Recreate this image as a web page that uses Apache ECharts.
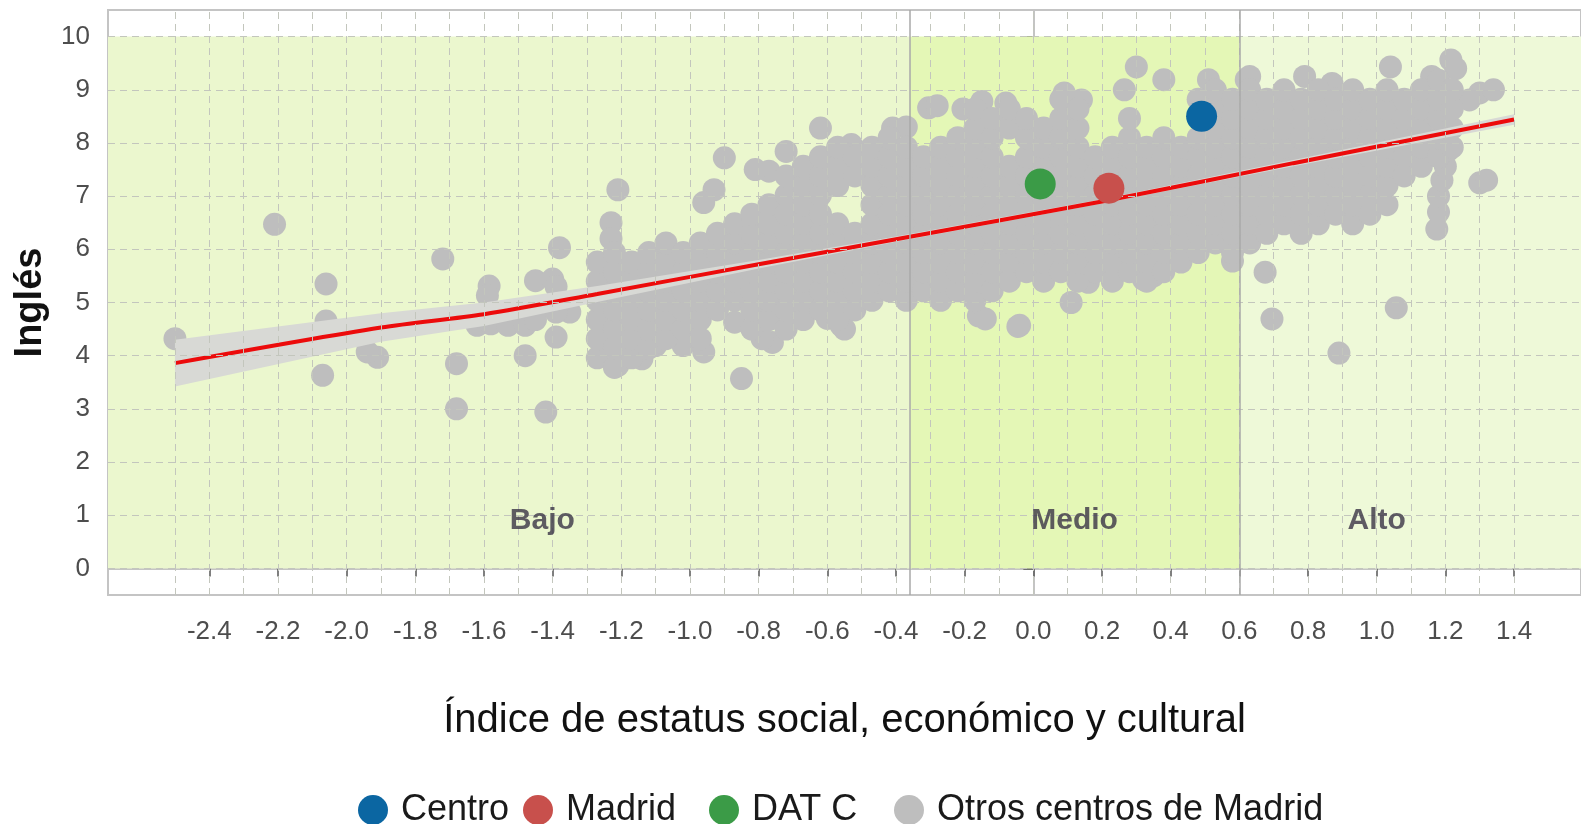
<!DOCTYPE html>
<html>
<head>
<meta charset="utf-8">
<script src="https://cdn.jsdelivr.net/npm/echarts@6/dist/echarts.min.js"></script>
<style>
  html, body { margin: 0; padding: 0; background: #ffffff; }
  #chart { width: 1581px; height: 824px; }
</style>
</head>
<body>
<div id="chart"></div>
<script>
// Eje X: índice ESCS; eje Y: nota de Inglés
const xTicks = [-2.4, -2.2, -2.0, -1.8, -1.6, -1.4, -1.2, -1.0, -0.8, -0.6, -0.4, -0.2, 0.0, 0.2, 0.4, 0.6, 0.8, 1.0, 1.2, 1.4];
const yTicks = [0, 1, 2, 3, 4, 5, 6, 7, 8, 9, 10];

// Tramos del índice (bajo / medio / alto)
const tramos = ['Bajo', 'Medio', 'Alto'];
const tramoLimites = [-0.36, 0.6];
const tramoEtiquetaX = [-1.43, 0.12, 1.0];

// Recta de ajuste e intervalo de confianza
const ajusteX = [-2.5, -1.9, -1.6, -1.27, -0.8, -0.4, 0.2, 0.757, 1.4];
const ajusteY = [3.86, 4.53, 4.78, 5.16, 5.72, 6.19, 6.9, 7.62, 8.44];
const icInf = [3.42, 4.26, 4.56, 5.01, 5.64, 6.14, 6.86, 7.56, 8.34];
const icSup = [4.30, 4.80, 5.00, 5.31, 5.80, 6.24, 6.94, 7.68, 8.54];

// Centros destacados
const centro = [[0.49, 8.50]];
const madrid = [[0.22, 7.15]];
const datC = [[0.02, 7.23]];

// Otros centros de Madrid: puntos aislados
const otrosAislados = [
  [-2.50, 4.32], [-2.21, 6.47], [-2.06, 5.35], [-2.06, 4.65], [-2.07, 3.63],
  [-1.91, 3.97], [-1.94, 4.07], [-1.72, 5.82], [-1.68, 3.85], [-1.68, 3.00],
  [-1.585, 5.31], [-1.59, 5.13], [-1.62, 4.57], [-1.58, 4.60], [-1.53, 4.57],
  [-1.48, 4.57], [-1.45, 4.68], [-1.45, 5.41], [-1.40, 5.44], [-1.39, 5.30],
  [-1.38, 6.03], [-1.39, 4.35], [-1.48, 4.00], [-1.42, 2.94], [-1.35, 4.82],
  [-1.39, 4.82], [-1.21, 7.12], [-1.23, 6.50], [-1.23, 6.20], [-1.14, 3.94],
  [-1.10, 4.19], [-1.21, 3.82], [-1.23, 4.45],
  [-0.90, 7.72], [-0.93, 7.12], [-0.96, 6.88], [-0.72, 7.84], [-0.62, 8.28],
  [-0.77, 7.47], [-0.81, 7.50], [-0.58, 7.78], [-0.53, 7.97], [-0.305, 8.66],
  [-0.28, 8.70], [-0.41, 8.28], [-0.37, 8.30], [-0.15, 8.78], [-0.08, 8.75],
  [-0.205, 8.64], [0.09, 8.94], [0.14, 8.81], [0.265, 9.00], [0.30, 9.43],
  [0.38, 9.19], [0.51, 9.19], [0.62, 9.19], [0.63, 9.25], [0.79, 9.25],
  [0.87, 9.12], [1.04, 9.43], [1.16, 9.25], [1.216, 9.56], [1.23, 9.40],
  [1.30, 8.94], [1.34, 9.00], [1.27, 8.81], [1.30, 7.25], [1.32, 7.30],
  [1.21, 7.87],
  [-0.87, 4.63], [-0.85, 3.57], [-0.76, 4.25], [-0.79, 4.32], [-0.56, 4.57],
  [-0.55, 4.50], [-0.60, 4.70], [-0.16, 4.75], [-0.14, 4.69], [-0.04, 4.57],
  [-0.045, 4.55], [0.11, 5.00], [0.16, 5.38], [0.32, 5.44], [0.35, 5.50],
  [0.58, 5.78], [0.675, 5.57], [0.695, 4.69], [1.057, 4.90], [0.89, 4.05],
  [1.175, 6.38], [1.18, 6.70], [1.18, 7.00], [1.19, 7.30], [1.20, 7.56],
  [-0.96, 4.07], [-1.02, 4.19]
];

// Otros centros de Madrid: nube principal, agrupada por valor del índice
const otrosNube = [
  [-1.27, [3.96, 4.32, 4.68, 5.04, 5.40, 5.76]],
  [-1.22, [3.78, 4.14, 4.50, 4.86, 5.22, 5.58, 5.94]],
  [-1.17, [3.96, 4.32, 4.68, 5.04, 5.40, 5.76]],
  [-1.12, [4.14, 4.50, 4.86, 5.22, 5.58, 5.94]],
  [-1.07, [4.32, 4.68, 5.04, 5.40, 5.76, 6.12]],
  [-1.02, [4.50, 4.86, 5.22, 5.58, 5.94]],
  [-0.97, [4.32, 4.68, 5.04, 5.40, 5.76, 6.12]],
  [-0.92, [4.86, 5.22, 5.58, 5.94, 6.30]],
  [-0.87, [5.04, 5.40, 5.76, 6.12, 6.48]],
  [-0.82, [4.50, 4.86, 5.22, 5.58, 5.94, 6.30, 6.66]],
  [-0.77, [4.68, 5.04, 5.40, 5.76, 6.12, 6.48, 6.84]],
  [-0.72, [4.50, 4.86, 5.22, 5.58, 5.94, 6.30, 6.66, 7.02, 7.38]],
  [-0.67, [4.68, 5.04, 5.40, 5.76, 6.12, 6.48, 6.84, 7.20, 7.56]],
  [-0.62, [4.86, 5.22, 5.58, 5.94, 6.30, 6.66, 7.02, 7.38, 7.74]],
  [-0.57, [4.68, 5.04, 5.40, 5.76, 6.12, 6.48, 7.20, 7.56, 7.92]],
  [-0.52, [4.86, 5.22, 5.58, 5.94, 6.30, 7.38, 7.74]],
  [-0.47, [5.04, 5.40, 5.76, 6.12, 6.48, 6.84, 7.20, 7.56, 7.92]],
  [-0.42, [5.22, 5.58, 5.94, 6.30, 6.66, 7.02, 7.38, 7.74, 8.10]],
  [-0.37, [5.04, 5.40, 5.76, 6.12, 6.48, 6.84, 7.20, 7.56, 7.92]],
  [-0.32, [5.22, 5.58, 5.94, 6.30, 6.66, 7.02, 7.38, 7.74]],
  [-0.27, [5.04, 5.40, 5.76, 6.12, 6.48, 6.84, 7.20, 7.56, 7.92]],
  [-0.22, [5.22, 5.58, 5.94, 6.30, 6.66, 7.02, 7.38, 7.74, 8.10]],
  [-0.17, [5.04, 5.40, 5.76, 6.12, 6.48, 6.84, 7.20, 7.56, 7.92, 8.28, 8.64]],
  [-0.12, [5.22, 5.58, 5.94, 6.30, 6.66, 7.02, 7.38, 7.74, 8.10, 8.46]],
  [-0.07, [5.40, 5.76, 6.12, 6.48, 6.84, 7.20, 7.56, 8.28, 8.64]],
  [-0.02, [5.58, 5.94, 6.30, 6.66, 7.02, 7.38, 7.74, 8.10, 8.46]],
  [0.03, [5.40, 5.76, 6.12, 6.48, 6.84, 7.20, 7.56, 7.92, 8.28]],
  [0.08, [5.58, 5.94, 6.30, 6.66, 7.02, 7.38, 7.74, 8.10, 8.46, 8.82]],
  [0.13, [5.40, 5.76, 6.12, 6.48, 6.84, 7.20, 7.56, 7.92, 8.28, 8.64]],
  [0.18, [5.58, 5.94, 6.30, 6.66, 7.02, 7.38, 7.74]],
  [0.23, [5.40, 5.76, 6.12, 6.48, 6.84, 7.20, 7.56, 7.92]],
  [0.28, [5.58, 5.94, 6.30, 6.66, 7.02, 7.38, 7.74, 8.10, 8.46]],
  [0.33, [5.40, 5.76, 6.12, 6.48, 6.84, 7.20, 7.56, 7.92]],
  [0.38, [5.58, 5.94, 6.30, 6.66, 7.02, 7.38, 7.74, 8.10]],
  [0.43, [5.76, 6.12, 6.48, 6.84, 7.20, 7.56, 7.92]],
  [0.48, [5.94, 6.30, 6.66, 7.02, 7.38, 7.74, 8.10, 8.82]],
  [0.53, [6.12, 6.48, 6.84, 7.20, 7.56, 7.92, 8.28, 8.64, 9.00]],
  [0.58, [5.94, 6.30, 6.66, 7.02, 7.38, 7.74, 8.10, 8.46, 8.82]],
  [0.63, [6.12, 6.48, 6.84, 7.20, 7.56, 7.92, 8.28, 8.64, 9.00]],
  [0.68, [6.30, 6.66, 7.02, 7.38, 7.74, 8.10, 8.46, 8.82]],
  [0.73, [6.48, 6.84, 7.20, 7.56, 7.92, 8.28, 8.64, 9.00]],
  [0.78, [6.30, 6.66, 7.02, 7.38, 7.74, 8.10, 8.46, 8.82]],
  [0.83, [6.48, 6.84, 7.20, 7.56, 7.92, 8.28, 8.64, 9.00]],
  [0.88, [6.66, 7.02, 7.38, 7.74, 8.10, 8.46, 8.82]],
  [0.93, [6.48, 6.84, 7.20, 7.56, 7.92, 8.28, 8.64, 9.00]],
  [0.98, [6.66, 7.02, 7.38, 7.74, 8.10, 8.46, 8.82]],
  [1.03, [6.84, 7.20, 7.56, 7.92, 8.28, 8.64, 9.00]],
  [1.08, [7.38, 7.74, 8.10, 8.46, 8.82]],
  [1.13, [7.56, 7.92, 8.28, 8.64, 9.00]],
  [1.18, [7.74, 8.10, 8.46, 8.82, 9.18]],
  [1.22, [7.92, 8.28, 8.64, 9.00]]
];

const otrosCentros = otrosAislados.concat(
  otrosNube.flatMap(([x, ys]) => ys.map(y => [x, y]))
);

// Límites del panel (rango de datos más un 5 % a cada lado)
const xMin = -2.695, xMax = 1.595;
const yMin = -0.5, yMax = 10.5;

const FONT = 'Liberation Sans, Arial, sans-serif';
const fondoTramos = ['#ebf7ce', '#e4f7b6', '#eef9d8'];

const xGrid = [];
for (let i = -25; i <= 14; i++) xGrid.push(i / 10);

const cortes = [xMin, tramoLimites[0], tramoLimites[1], xMax];
const areasTramos = tramos.map((t, i) => [
  { xAxis: cortes[i], yAxis: 0, itemStyle: { color: fondoTramos[i] } },
  { xAxis: cortes[i + 1], yAxis: 10 }
]);

// Leyenda: una entrada por componente para fijar su posición
const leyenda = [
  { nombre: 'Centro', left: 358 },
  { nombre: 'Madrid', left: 523 },
  { nombre: 'DAT C', left: 709 },
  { nombre: 'Otros centros de Madrid', left: 894 }
].map(l => ({
  data: [l.nombre], left: l.left, top: 792, padding: 0, icon: 'circle',
  itemWidth: 30, itemHeight: 30, selectedMode: false,
  textStyle: { fontSize: 36, color: '#1a1a1a', fontFamily: FONT, padding: [0, 0, 0, 8] }
}));

const chart = echarts.init(document.getElementById('chart'));
chart.setOption({
  animation: false,
  backgroundColor: '#ffffff',
  textStyle: { fontFamily: FONT },
  grid: {
    left: 108, top: 10, width: 1480, height: 585,
    show: true, borderColor: '#c4c4c4', borderWidth: 2, backgroundColor: '#ffffff'
  },
  xAxis: {
    type: 'value', min: xMin, max: xMax,
    name: 'Índice de estatus social, económico y cultural',
    nameLocation: 'middle', nameGap: 106,
    nameTextStyle: { fontSize: 40, color: '#111111', fontFamily: FONT },
    axisLine: { show: true, lineStyle: { color: '#c4c4c4', width: 2 } },
    axisTick: { show: true, length: 8, customValues: xTicks, lineStyle: { color: '#555555', width: 1.5 } },
    axisLabel: {
      customValues: xTicks, fontSize: 26, color: '#4d4d4d', margin: 24, fontFamily: FONT,
      formatter: v => Number(v).toFixed(1)
    },
    splitLine: { show: false }
  },
  yAxis: {
    type: 'value', min: yMin, max: yMax,
    name: 'Inglés', nameLocation: 'middle', nameGap: 58,
    nameTextStyle: { fontSize: 38, fontWeight: 'bold', color: '#111111', fontFamily: FONT },
    axisLine: { show: true, lineStyle: { color: '#c4c4c4', width: 2 } },
    axisTick: { show: true, length: 10, customValues: yTicks, lineStyle: { color: '#555555', width: 1.5 } },
    axisLabel: { customValues: yTicks, fontSize: 26, color: '#4d4d4d', margin: 18, fontFamily: FONT },
    splitLine: { show: false }
  },
  legend: leyenda,
  series: [
    {
      name: 'fondo', type: 'scatter', data: [], z: 0, silent: true,
      markArea: { silent: true, data: areasTramos }
    },
    {
      name: 'rejilla', type: 'scatter', data: [], z: 1, silent: true,
      markLine: {
        silent: true, symbol: 'none', label: { show: false },
        lineStyle: { color: '#c3c6bd', width: 1, type: [7, 5] },
        data: xGrid.map(v => ({ xAxis: v })).concat(yTicks.map(v => ({ yAxis: v })))
      }
    },
    {
      name: 'limites', type: 'scatter', data: [], z: 1, silent: true,
      markLine: {
        silent: true, symbol: 'none', label: { show: false },
        lineStyle: { color: '#a8a8a8', width: 1.5, type: 'solid' },
        data: tramoLimites.map(v => ({ xAxis: v }))
      }
    },
    {
      name: 'Otros centros de Madrid', type: 'scatter', z: 2,
      symbolSize: 23, itemStyle: { color: '#bebebe', opacity: 1 },
      data: otrosCentros
    },
    {
      // banda del intervalo de confianza: borde superior y vuelta por el inferior
      name: 'intervalo', type: 'custom', z: 3, silent: true,
      data: ajusteX.map((x, i) => [x, icInf[i], icSup[i]]),
      renderItem: (params, api) => {
        if (params.dataIndex !== 0) return null;
        const arriba = ajusteX.map((x, i) => api.coord([x, icSup[i]]));
        const abajo = ajusteX.map((x, i) => api.coord([x, icInf[i]])).reverse();
        return {
          type: 'polygon',
          shape: { points: arriba.concat(abajo) },
          style: { fill: '#d8d9d5' }
        };
      }
    },
    {
      name: 'ajuste', type: 'line', z: 4, symbol: 'none', smooth: 0.3, silent: true,
      lineStyle: { color: '#ec0b0b', width: 4 },
      data: ajusteX.map((x, i) => [x, ajusteY[i]])
    },
    { name: 'Centro', type: 'scatter', z: 5, symbolSize: 31, itemStyle: { color: '#0b66a2', opacity: 1 }, data: centro },
    { name: 'Madrid', type: 'scatter', z: 5, symbolSize: 31, itemStyle: { color: '#c8504c', opacity: 1 }, data: madrid },
    { name: 'DAT C', type: 'scatter', z: 5, symbolSize: 31, itemStyle: { color: '#3b9b47', opacity: 1 }, data: datC },
    {
      name: 'tramos', type: 'scatter', z: 6, symbolSize: 1, silent: true,
      itemStyle: { color: 'rgba(0,0,0,0)' },
      label: {
        show: true, position: 'inside', offset: [0, 6], formatter: p => p.data[2],
        fontSize: 30, fontWeight: 'bold', color: '#3a3346', fontFamily: FONT
      },
      data: tramos.map((t, i) => [tramoEtiquetaX[i], 1, t])
    }
  ]
});
</script>
</body>
</html>
